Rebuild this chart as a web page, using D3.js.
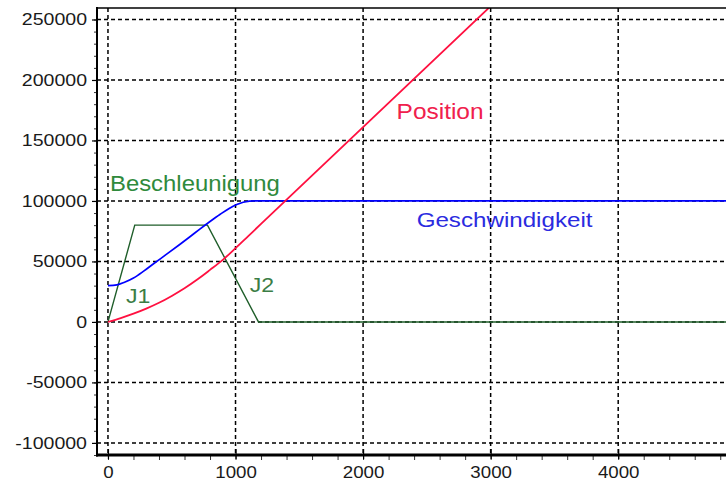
<!DOCTYPE html>
<html>
<head>
<meta charset="utf-8">
<script src="https://cdn.jsdelivr.net/npm/d3@7"></script>
<style>
  body { margin: 0; background: #fff; }
  svg { display: block; font-family: "Liberation Sans", Arial, sans-serif; }
</style>
</head>
<body>
<div id="chart"></div>
<script>
// Beschleunigung (acceleration profile)
const accelT = [0, 210, 780, 1180, 4900]
const accelV = [0, 80000, 80000, 0, 0]

// Geschwindigkeit (velocity)
const velT = [0, 70, 130, 200, 280, 360, 460, 560, 640, 720, 800, 880, 950, 1010, 1060, 1110, 1150, 4900]
const velV = [30000, 30600, 32800, 36300, 42000, 48300, 56000, 63800, 70200, 76700, 83000, 89000, 93800, 97000, 98900, 99800, 100000, 100000]

// Position
const posT = [0, 100, 200, 300, 400, 500, 600, 700, 800, 900, 1000, 1100, 1200, 3000]
const posV = [0, 3200, 6800, 11000, 15800, 21500, 27800, 35000, 43000, 51300, 61000, 71000, 81000, 261000]

// axis ticks
const xTicks = [0, 1000, 2000, 3000, 4000]
const yTicks = [-100000, -50000, 0, 50000, 100000, 150000, 200000, 250000]
const xMinor = d3.range(0, 4900, 200)
const yMinor = d3.range(-110000, 260000, 10000)

// annotation texts, anchored in data units
const labels = [
  { text: 'Beschleunigung', t: 16, v: 108300, color: '#2f8a3c', size: 21.5, k: 1.11 },
  { text: 'Position', t: 2263, v: 167500, color: '#f0204c', size: 22, k: 1.11 },
  { text: 'Geschwindigkeit', t: 2420, v: 78800, color: '#2b2be0', size: 21, k: 1.15 },
  { text: 'J1', t: 141, v: 15700, color: '#3b7d45', size: 21, k: 1.1 },
  { text: 'J2', t: 1112, v: 24800, color: '#3b7d45', size: 21, k: 1.1 }
]

const width = 726, height = 485
const mLeft = 97, mRight = 733, mTop = 8, mBottom = 455

const x = d3.scaleLinear().domain([-86, 4900]).range([mLeft, mRight])
const y = d3.scaleLinear().domain([-110000, 259500]).range([mBottom, mTop])

const svg = d3.select('#chart').append('svg')
    .attr('width', width)
    .attr('height', height)

// widen text horizontally like the original screenshot
function stretch(sel, k) {
    sel.each(function() {
        let w = this.getComputedTextLength()
        this.setAttribute('textLength', w * k)
        this.setAttribute('lengthAdjust', 'spacingAndGlyphs')
    })
}

svg.append('clipPath').attr('id', 'plot-clip')
    .append('rect')
    .attr('x', mLeft).attr('y', mTop)
    .attr('width', mRight - mLeft).attr('height', mBottom - mTop)

// Grid lines
let grid = svg.append('g')
    .attr('stroke', '#000')
    .attr('stroke-width', 1.5)
    .attr('stroke-dasharray', '4,3')

grid.selectAll('.vgrid')
    .data(xTicks)
    .join('line')
    .attr('class', 'vgrid')
    .attr('x1', d => x(d)).attr('x2', d => x(d))
    .attr('y1', mTop).attr('y2', mBottom)

grid.selectAll('.hgrid')
    .data(yTicks)
    .join('line')
    .attr('class', 'hgrid')
    .attr('x1', mLeft).attr('x2', mRight)
    .attr('y1', d => y(d)).attr('y2', d => y(d))

// Curves
let plot = svg.append('g').attr('clip-path', 'url(#plot-clip)')

let series = [
    { t: accelT, v: accelV, color: '#1f5e2a', width: 1.4, curve: d3.curveLinear },
    { t: velT, v: velV, color: '#0000ff', width: 1.7, curve: d3.curveMonotoneX },
    { t: posT, v: posV, color: '#ff1040', width: 1.8, curve: d3.curveMonotoneX }
]

series.forEach(s => {
    let line = d3.line()
        .x(i => x(s.t[i]))
        .y(i => y(s.v[i]))
        .curve(s.curve)
    plot.append('path')
        .datum(d3.range(s.t.length))
        .attr('d', line)
        .attr('fill', 'none')
        .attr('stroke', s.color)
        .attr('stroke-width', s.width)
})

// Y axis
let yAxis = svg.append('g')
    .attr('transform', 'translate(' + mLeft + ',0)')

yAxis.append('g')
    .call(d3.axisLeft(y).tickValues(yMinor).tickSize(3).tickFormat(''))
    .call(g => g.select('.domain').remove())
    .selectAll('line').attr('stroke', '#333')

yAxis.append('g')
    .call(d3.axisLeft(y).tickValues(yTicks).tickSize(5).tickPadding(5).tickFormat(d => d))
    .call(g => g.select('.domain').remove())
    .call(g => g.selectAll('line').attr('stroke', '#000').attr('stroke-width', 1.2))
    .call(g => g.selectAll('text')
        .attr('font-size', 16.3)
        .attr('font-family', '"Liberation Sans", Arial, sans-serif')
        .attr('fill', '#1a1a1a')
        .call(stretch, 1.2))

// X axis
let xAxis = svg.append('g')
    .attr('transform', 'translate(0,' + mBottom + ')')

xAxis.append('g')
    .call(d3.axisBottom(x).tickValues(xMinor).tickSize(5).tickFormat(''))
    .call(g => g.select('.domain').remove())
    .selectAll('line').attr('stroke', '#333')

xAxis.append('g')
    .call(d3.axisBottom(x).tickValues(xTicks).tickSize(4).tickPadding(7).tickFormat(d => d))
    .call(g => g.select('.domain').remove())
    .call(g => g.selectAll('line').attr('y1', -6).attr('stroke', '#000').attr('stroke-width', 1.2))
    .call(g => g.selectAll('text')
        .attr('font-size', 17)
        .attr('font-family', '"Liberation Sans", Arial, sans-serif')
        .attr('fill', '#1a1a1a')
        .call(stretch, 1.1))

// Frame lines
svg.append('line')
    .attr('x1', mLeft).attr('x2', mLeft)
    .attr('y1', mTop - 1).attr('y2', mBottom + 1.5)
    .attr('stroke', '#000').attr('stroke-width', 2)

svg.append('line')
    .attr('x1', mLeft - 1).attr('x2', width)
    .attr('y1', mBottom).attr('y2', mBottom)
    .attr('stroke', '#000').attr('stroke-width', 3)

svg.append('line')
    .attr('x1', mLeft - 1).attr('x2', width)
    .attr('y1', mTop).attr('y2', mTop)
    .attr('stroke', '#000').attr('stroke-width', 1.6)

// Annotations
svg.append('g').selectAll('text')
    .data(labels)
    .join('text')
    .attr('x', d => x(d.t))
    .attr('y', d => y(d.v))
    .attr('fill', d => d.color)
    .attr('font-size', d => d.size)
    .text(d => d.text)
    .each(function(d) { d3.select(this).call(stretch, d.k) })
</script>
</body>
</html>
